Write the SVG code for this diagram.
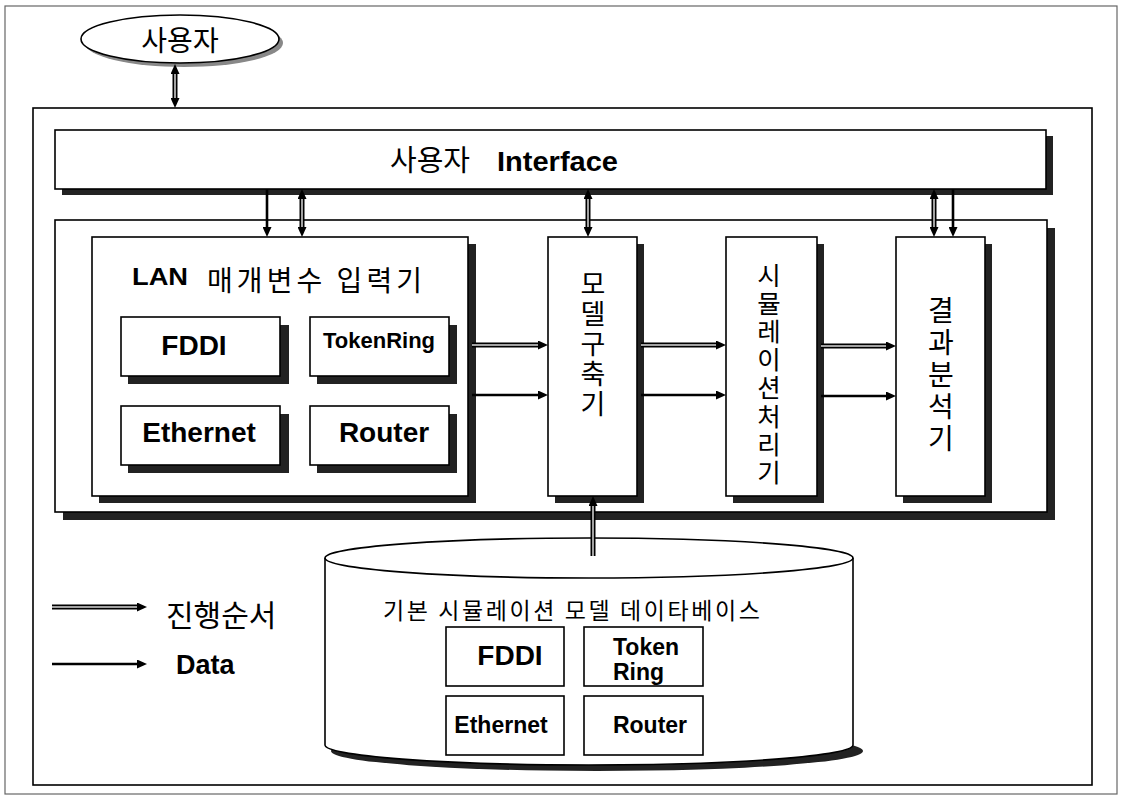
<svg xmlns="http://www.w3.org/2000/svg" width="1124" height="801" viewBox="0 0 1124 801">
<style>
.box{fill:#fff;stroke:#000;stroke-width:1.6}
.frame{fill:none;stroke:#000;stroke-width:1.6}
.outer{fill:none;stroke:#666;stroke-width:1.2}
.sh{fill:#222}
.kr{font-family:"Noto Sans CJK KR","Noto Sans",sans-serif;fill:#000}
.en{font-family:"Liberation Sans",Arial,sans-serif;font-weight:bold;fill:#000}
.dbl{stroke:#000;stroke-width:5;fill:none}
.dbl-in{stroke:#d8d8d8;stroke-width:1.5;fill:none}
.sol{stroke:#000;stroke-width:2.6;fill:none}
</style>
<defs>
<marker id="ah" viewBox="0 0 10 9" refX="0" refY="4.5" markerWidth="10" markerHeight="9" markerUnits="userSpaceOnUse" orient="auto-start-reverse">
<path d="M0,0 L10,4.5 L0,9 z" fill="#000"/>
</marker>
</defs>
<rect width="1124" height="801" fill="#fff"/>
<rect class="outer" x="5" y="6" width="1112" height="788"/>

<g id="user">
<ellipse cx="184" cy="43" rx="99" ry="24" fill="#888"/>
<ellipse class="box" cx="180" cy="39" rx="99" ry="24"/>
<text class="kr" x="180" y="51" font-size="28" text-anchor="middle">사용자</text>
</g>

<rect id="main-frame" class="frame" x="33" y="108" width="1059" height="677"/>

<g id="interface">
<rect class="sh" x="62" y="136" width="991" height="59"/>
<rect class="box" x="55" y="130" width="991" height="59"/>
<text x="390" y="171"><tspan class="kr" font-size="29">사용자</tspan><tspan class="en" x="497" font-size="27" textLength="121" lengthAdjust="spacingAndGlyphs">Interface</tspan></text>
</g>

<g id="panel">
<rect class="sh" x="63" y="228" width="992" height="292"/>
<rect class="box" x="55" y="220" width="992" height="292"/>
</g>

<g id="lan-input">
<rect class="sh" x="99" y="244" width="377" height="259"/>
<rect class="box" x="92" y="237" width="376" height="259"/>
<text class="en" x="132" y="285" font-size="24" textLength="56" lengthAdjust="spacingAndGlyphs">LAN</text>
<text class="kr" x="207" y="291" font-size="28" textLength="215" lengthAdjust="spacing">매개변수 입력기</text>
</g>

<g id="lan-fddi">
<rect class="sh" x="128" y="325" width="161" height="59"/>
<rect class="box" x="121" y="317" width="159" height="59"/>
<text class="en" x="194" y="355" font-size="28" text-anchor="middle">FDDI</text>
</g>
<g id="lan-tokenring">
<rect class="sh" x="317" y="325" width="140" height="59"/>
<rect class="box" x="310" y="317" width="139" height="59"/>
<text class="en" x="379" y="348" font-size="22" text-anchor="middle">TokenRing</text>
</g>
<g id="lan-ethernet">
<rect class="sh" x="128" y="414" width="161" height="59"/>
<rect class="box" x="121" y="406" width="159" height="59"/>
<text class="en" x="199" y="442" font-size="28" text-anchor="middle">Ethernet</text>
</g>
<g id="lan-router">
<rect class="sh" x="317" y="414" width="140" height="59"/>
<rect class="box" x="310" y="406" width="139" height="59"/>
<text class="en" x="384" y="442" font-size="28" text-anchor="middle">Router</text>
</g>

<g id="model-builder">
<rect class="sh" x="555" y="244" width="89" height="259"/>
<rect class="box" x="548" y="237" width="89" height="259"/>
<text class="kr" font-size="27" text-anchor="middle"><tspan x="593" y="294">모</tspan><tspan x="593" y="324">델</tspan><tspan x="593" y="354">구</tspan><tspan x="593" y="384">축</tspan><tspan x="593" y="414">기</tspan></text>
</g>

<g id="simulator">
<rect class="sh" x="733" y="244" width="91" height="259"/>
<rect class="box" x="726" y="237" width="91" height="259"/>
<text class="kr" font-size="25.5" text-anchor="middle"><tspan x="769" y="285">시</tspan><tspan x="769" y="313">뮬</tspan><tspan x="769" y="341">레</tspan><tspan x="769" y="369">이</tspan><tspan x="769" y="397">션</tspan><tspan x="769" y="426">처</tspan><tspan x="769" y="454">리</tspan><tspan x="769" y="482">기</tspan></text>
</g>

<g id="analyzer">
<rect class="sh" x="903" y="244" width="89" height="259"/>
<rect class="box" x="896" y="237" width="89" height="259"/>
<text class="kr" font-size="28" text-anchor="middle"><tspan x="941" y="321">결</tspan><tspan x="941" y="353">과</tspan><tspan x="941" y="385">분</tspan><tspan x="941" y="417">석</tspan><tspan x="941" y="449">기</tspan></text>
</g>

<g id="database">
<ellipse cx="597" cy="751" rx="266" ry="20" fill="#222"/>
<path class="box" d="M325,558 L325,745 A264,20 0 0 0 853,745 L853,558 A264,20 0 0 0 325,558 Z"/>
<path fill="none" stroke="#000" stroke-width="1.6" d="M325,558 A264,20 0 0 0 853,558"/>
<text class="kr" x="383" y="619" font-size="23" textLength="377" lengthAdjust="spacing">기본 시뮬레이션 모델 데이타베이스</text>
</g>
<g id="db-fddi">
<rect class="box" x="446" y="627" width="118" height="59"/>
<text class="en" x="510" y="665" font-size="28" text-anchor="middle">FDDI</text>
</g>
<g id="db-tokenring">
<rect class="box" x="584" y="627" width="119" height="59"/>
<text class="en" font-size="23"><tspan x="613" y="655">Token</tspan><tspan x="613" y="680">Ring</tspan></text>
</g>
<g id="db-ethernet">
<rect class="box" x="446" y="696" width="118" height="59"/>
<text class="en" x="501" y="733" font-size="23" text-anchor="middle">Ethernet</text>
</g>
<g id="db-router">
<rect class="box" x="584" y="696" width="119" height="59"/>
<text class="en" x="650" y="733" font-size="23" text-anchor="middle">Router</text>
</g>

<g id="legend">
<text class="kr" x="166" y="626" font-size="30">진행순서</text>
<text class="en" x="176" y="674" font-size="27">Data</text>
</g>

<g id="connectors">
<line class="dbl" x1="175" y1="74" x2="175" y2="98" marker-start="url(#ah)" marker-end="url(#ah)"/>
<line class="dbl-in" x1="175" y1="74" x2="175" y2="98"/>
<line class="sol" x1="267" y1="189" x2="267" y2="227" marker-end="url(#ah)"/>
<line class="dbl" x1="302" y1="199" x2="302" y2="227" marker-start="url(#ah)" marker-end="url(#ah)"/>
<line class="dbl-in" x1="302" y1="199" x2="302" y2="227"/>
<line class="dbl" x1="588" y1="199" x2="588" y2="227" marker-start="url(#ah)" marker-end="url(#ah)"/>
<line class="dbl-in" x1="588" y1="199" x2="588" y2="227"/>
<line class="dbl" x1="934" y1="199" x2="934" y2="227" marker-start="url(#ah)" marker-end="url(#ah)"/>
<line class="dbl-in" x1="934" y1="199" x2="934" y2="227"/>
<line class="sol" x1="953" y1="189" x2="953" y2="227" marker-end="url(#ah)"/>
<line class="dbl" x1="472" y1="345" x2="538" y2="345" marker-end="url(#ah)"/>
<line class="dbl-in" x1="472" y1="345" x2="538" y2="345"/>
<line class="sol" x1="472" y1="395" x2="538" y2="395" marker-end="url(#ah)"/>
<line class="dbl" x1="641" y1="345" x2="716" y2="345" marker-end="url(#ah)"/>
<line class="dbl-in" x1="641" y1="345" x2="716" y2="345"/>
<line class="sol" x1="641" y1="395" x2="716" y2="395" marker-end="url(#ah)"/>
<line class="dbl" x1="821" y1="346" x2="886" y2="346" marker-end="url(#ah)"/>
<line class="dbl-in" x1="821" y1="346" x2="886" y2="346"/>
<line class="sol" x1="821" y1="396" x2="886" y2="396" marker-end="url(#ah)"/>
<line class="dbl" x1="593" y1="556" x2="593" y2="506" marker-end="url(#ah)"/>
<line class="dbl-in" x1="593" y1="556" x2="593" y2="506"/>
<line class="dbl" x1="52" y1="607" x2="137" y2="607" marker-end="url(#ah)"/>
<line class="dbl-in" x1="52" y1="607" x2="137" y2="607"/>
<line class="sol" x1="52" y1="664" x2="137" y2="664" marker-end="url(#ah)"/>
</g>
</svg>
